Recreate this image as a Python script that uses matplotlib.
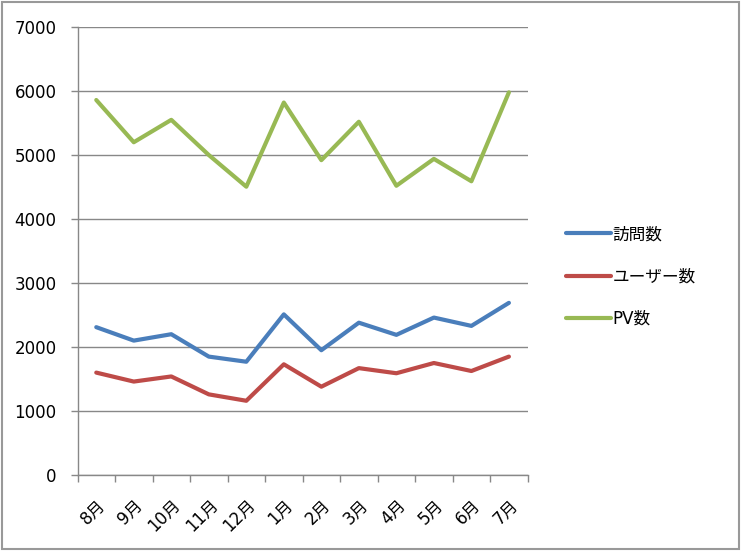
import matplotlib
matplotlib.use('Agg')
import matplotlib.pyplot as plt
import numpy as np
from matplotlib.patches import Rectangle

plt.rcParams['font.family'] = ['DejaVu Sans', 'Noto Sans CJK JP']

# データ
months = ['8月', '9月', '10月', '11月', '12月', '1月', '2月', '3月', '4月', '5月', '6月', '7月']
visits = [2310, 2100, 2200, 1850, 1770, 2510, 1950, 2380, 2190, 2460, 2330, 2690]
users = [1600, 1460, 1540, 1260, 1160, 1730, 1380, 1670, 1590, 1750, 1625, 1850]
pv = [5860, 5200, 5550, 5000, 4505, 5820, 4920, 5520, 4520, 4940, 4590, 5980]
series_names = ['訪問数', 'ユーザー数', 'PV数']
colors = ['#4A7EBB', '#BE4B48', '#98B954']

fig = plt.figure(figsize=(7.41, 5.52), dpi=100)
ax = fig.add_axes([0.1046, 0.1395, 0.6075, 0.8115])

x = np.arange(len(months))
for vals, name, c in zip([visits, users, pv], series_names, colors):
    ax.plot(x, vals, color=c, lw=3, label=name, solid_capstyle='round', solid_joinstyle='round')

ax.set_xlim(-0.5, len(months) - 0.5)
ax.set_ylim(0, 7000)
ax.set_yticks(range(0, 7001, 1000))
ax.tick_params(axis='y', labelsize=12, length=5, color='#888888', width=1, pad=10)

# x軸: ラベルは中央、目盛りは境界
ax.set_xticks(x)
ax.set_xticklabels(months, rotation=45, ha='right', rotation_mode='anchor', fontsize=12)
ax.tick_params(axis='x', which='major', length=0, pad=15)
ax.set_xticks(np.arange(-0.5, len(months), 1), minor=True)
ax.tick_params(axis='x', which='minor', length=5, color='#888888', width=1)

ax.grid(True, axis='y', color='#888888', lw=1)
ax.set_axisbelow(True)
for s in ['top', 'right']:
    ax.spines[s].set_visible(False)
for s in ['left', 'bottom']:
    ax.spines[s].set_color('#888888')
    ax.spines[s].set_linewidth(1)

fig.legend(loc='upper left', bbox_to_anchor=(0.752, 0.607), frameon=False, fontsize=12,
           handlelength=2.7, handletextpad=0.1, labelspacing=1.45, borderpad=0)

# 外枠
fig.patches.append(Rectangle((2 / 741, 3 / 552), 737 / 741, 547 / 552, transform=fig.transFigure,
                             fill=False, edgecolor='#999999', lw=1.5))

fig.savefig('out.png', dpi=100)
